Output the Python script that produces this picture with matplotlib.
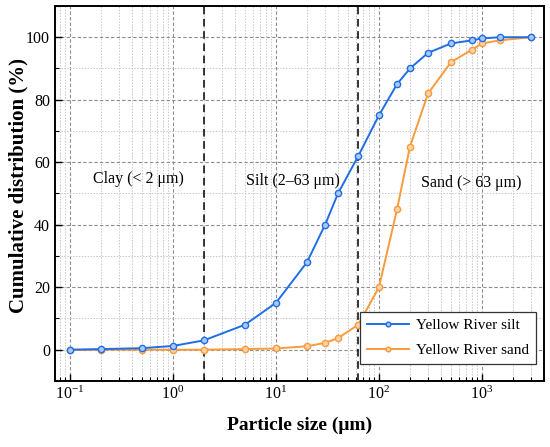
import matplotlib
matplotlib.use("Agg")
import matplotlib.pyplot as plt
import numpy as np

plt.rcParams['font.family'] = ['Liberation Serif', 'DejaVu Serif']
plt.rcParams['mathtext.fontset'] = 'stix'

# particle size (um) and cumulative distribution (%)
size = [0.1, 0.2, 0.5, 1, 2, 5, 10, 20, 30, 40, 63, 100, 150, 200, 300, 500, 800, 1000, 1500, 3000]
silt = [0, 0.2, 0.5, 1.2, 3, 8, 15, 28, 40, 50, 62, 75, 85, 90, 95, 98, 99, 99.6, 100, 100]
sand = [0, 0, 0, 0, 0, 0.2, 0.4, 1.1, 2.2, 3.7, 8, 20, 45, 65, 82, 92, 96, 98, 99, 100]

bounds = [2, 63]
zones = ['Clay (< 2 μm)', 'Silt (2–63 μm)', 'Sand (> 63 μm)']
zone_x = [0.46, 14.6, 780]
zone_y = [54.5, 54, 53.5]

blue = '#1f6ee6'
orange = '#f99a3c'

fig = plt.figure(figsize=(5.5, 4.47), dpi=100)
ax = fig.add_axes([0.1, 0.1477, 0.889, 0.839])

ax.plot(size, silt, color=blue, lw=1.4, marker='o', ms=4.5,
        mfc='#a9c8f5', mec=blue, mew=1.0, label='Yellow River silt', zorder=4)
ax.plot(size, sand, color=orange, lw=1.4, marker='o', ms=4.5,
        mfc='#fcd3a8', mec=orange, mew=1.0, label='Yellow River sand', zorder=3)

for b in bounds:
    ax.axvline(b, color='black', lw=1.1, ls=(0, (5, 3)), zorder=2)

for t, x, y in zip(zones, zone_x, zone_y):
    ax.text(x, y, t, ha='center', va='center', fontsize=11.5)

ax.set_xscale('log')
ax.set_xlim(0.0715, 4000)
ax.set_ylim(-10, 110)
ax.set_yticks([0, 20, 40, 60, 80, 100])
ax.set_yticks(np.arange(-10, 111, 10), minor=True)

ax.grid(True, which='major', color='#8c8c8c', ls=(0, (3, 2)), lw=0.8)
ax.grid(True, which='minor', color='#c8c8c8', ls=(0, (1.5, 1.5)), lw=0.7)
ax.set_axisbelow(True)

ax.tick_params(which='both', direction='in', top=False, right=False, labelsize=11.5)
ax.tick_params(which='major', length=5, width=1)
ax.tick_params(which='minor', length=3, width=0.8)
for s in ax.spines.values():
    s.set_linewidth(1.4)

ax.set_xlabel('Particle size (μm)', fontsize=14, fontweight='bold', labelpad=10)
ax.set_ylabel('Cumulative distribution (%)', fontsize=15, fontweight='bold')
ax.yaxis.set_label_coords(-0.054, 0.52)

leg = ax.legend(loc='lower right', bbox_to_anchor=(0.984, 0.045), borderaxespad=0,
                fontsize=11, frameon=True, fancybox=False, edgecolor='#333333',
                handlelength=2.7, labelspacing=0.75, markerscale=0.75,
                borderpad=0.45, handletextpad=0.5)
leg.get_frame().set_linewidth(0.9)
leg.get_frame().set_alpha(1)

fig.savefig('out.png', dpi=100)
